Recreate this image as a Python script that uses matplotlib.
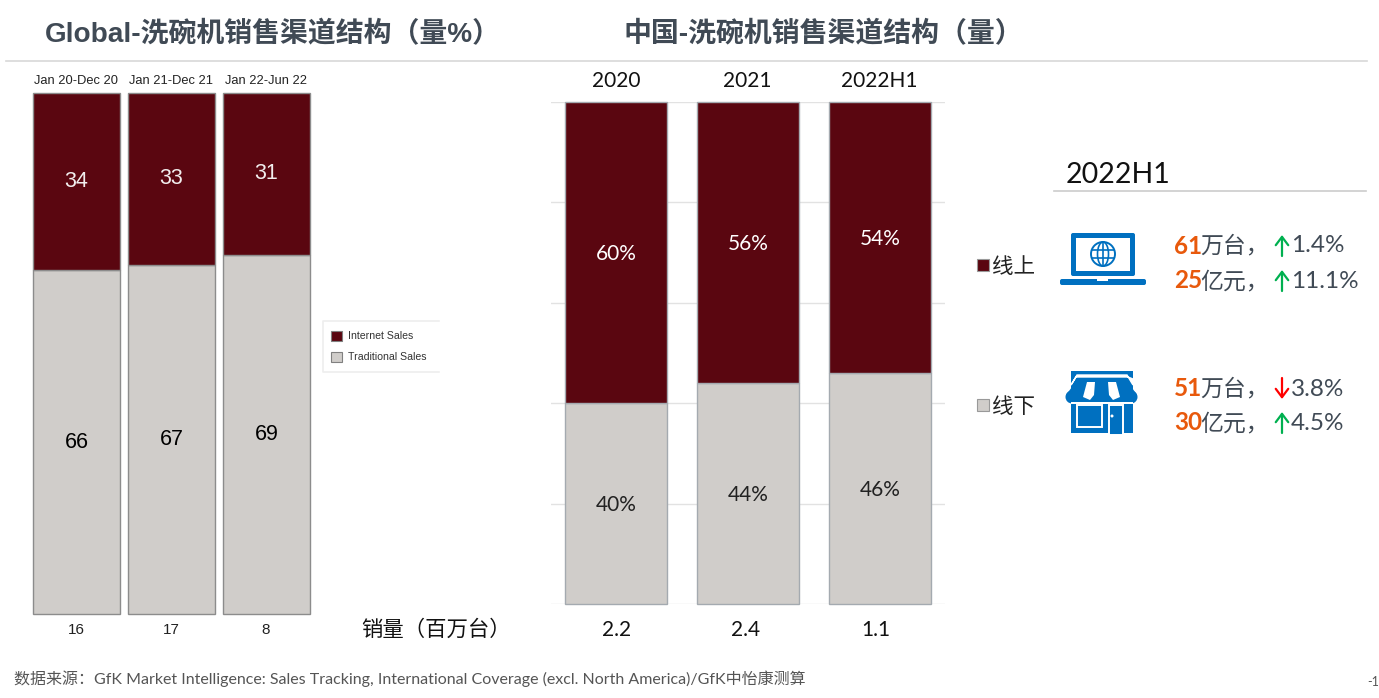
import matplotlib
matplotlib.use("Agg")
import matplotlib.pyplot as plt
from matplotlib.patches import Circle, Ellipse, Polygon, Rectangle, FancyBboxPatch

W, H = 1379, 698
DARK = "#5a0610"
GREY = "#d0cdca"
BLUE = "#0070c0"
ORANGE = "#e8590c"
TXT = "#404a55"
CJK = ["Lato", "Noto Sans CJK SC", "DejaVu Sans"]
ARIAL = ["Liberation Sans", "Noto Sans CJK SC"]

global_periods = ["Jan 20-Dec 20", "Jan 21-Dec 21", "Jan 22-Jun 22"]
global_internet = [34, 33, 31]
global_traditional = [66, 67, 69]
global_volume = ["16", "17", "8"]

china_years = ["2020", "2021", "2022H1"]
china_online = [60, 56, 54]
china_offline = [40, 44, 46]
china_volume = ["2.2", "2.4", "1.1"]

legend_labels = ["Internet Sales", "Traditional Sales"]
kpi_rows = [
    ("61", "万台，", "up", "1.4%"),
    ("25", "亿元，", "up", "11.1%"),
    ("51", "万台，", "down", "3.8%"),
    ("30", "亿元，", "up", "4.5%"),
]


def px_axes(fig, left, top, right, bottom):
    return fig.add_axes([left / W, 1 - bottom / H, (right - left) / W, (bottom - top) / H])


def stacked(ax, top_vals, bottom_vals, edge, width):
    x = range(len(top_vals))
    ax.bar(x, bottom_vals, width=width, color=GREY, edgecolor=edge, linewidth=1.0, zorder=3, clip_on=False)
    ax.bar(x, top_vals, width=width, bottom=bottom_vals, color=DARK, edgecolor=edge, linewidth=1.0, zorder=3,
           clip_on=False)
    ax.set_ylim(0, 100)
    ax.set_xticks([])
    for s in ax.spines.values():
        s.set_visible(False)


fig = plt.figure(figsize=(W / 100, H / 100), dpi=100)

# left chart: bars span 33..310 px, 95 px apart
ax_g = px_axes(fig, 33, 93, 310, 614)
stacked(ax_g, global_internet, global_traditional, "#8c8c8c", 87 / 95)
ax_g.set_xlim(-43.5 / 95, 2 + 43.5 / 95)
ax_g.set_yticks([])
for i in range(3):
    ax_g.text(i, global_traditional[i] + global_internet[i] / 2, str(global_internet[i]),
              color="#f2eeee", fontsize=15.5, ha="center", va="center", family=ARIAL, zorder=4)
    ax_g.text(i, global_traditional[i] / 2, str(global_traditional[i]),
              color="black", fontsize=15.5, ha="center", va="center", family=ARIAL, zorder=4)

# right chart, gridlines run 551..945 px, bars 132 px apart
ax_c = px_axes(fig, 551, 102, 945, 604)
stacked(ax_c, china_online, china_offline, "#a4aab0", 102 / 132)
ax_c.set_xlim(-65 / 132, 2 + 65 / 132)
ax_c.set_yticks([0, 20, 40, 60, 80, 100])
ax_c.tick_params(left=False, labelleft=False)
ax_c.grid(axis="y", color="#e2e2e2", linewidth=1, zorder=0)
for i in range(3):
    ax_c.text(i, china_offline[i] + china_online[i] / 2 - 0.2, f"{china_online[i]}%",
              color="white", fontsize=15, ha="center", va="center", family=CJK, zorder=4)
    ax_c.text(i, china_offline[i] / 2 - 0.2, f"{china_offline[i]}%",
              color="#222222", fontsize=15, ha="center", va="center", family=CJK, zorder=4)

# overlay in pixel coords for text, legends and icons
ov = fig.add_axes([0, 0, 1, 1], zorder=10)
ov.set_xlim(0, W)
ov.set_ylim(H, 0)
ov.axis("off")
ov.patch.set_alpha(0)


def t(x, y, s, size, color="black", ha="left", family=CJK, weight="normal"):
    ov.text(x, y, s, fontsize=size, color=color, ha=ha, va="center", family=family, fontweight=weight)


t(45, 35, "Global-洗碗机销售渠道结构（量%）", 20.1, TXT, family=ARIAL, weight="bold")
t(623, 35, "中国-洗碗机销售渠道结构（量）", 20.1, TXT, family=ARIAL, weight="bold")
ov.plot([6, 1367], [61, 61], color="#d8d8d8", lw=1.2)

for i, cx in enumerate([76, 171, 266]):
    t(cx, 81, global_periods[i], 9.3, "#222222", "center", ARIAL)
    t(cx, 630, global_volume[i], 11, "#222222", "center", ARIAL)
for i, cx in enumerate([616, 747, 879]):
    t(cx, 81, china_years[i], 15, "#111111", "center")
for i, cx in enumerate([617, 746, 876]):
    t(cx, 630, china_volume[i], 15, "#111111", "center")
t(361, 630, "销量（百万台）", 15.4, "#111111")
t(14, 679, "数据来源：GfK Market Intelligence: Sales Tracking, International Coverage (excl. North America)/GfK中怡康测算",
  11.5, "#555555")
t(1367, 682, "-1", 9, "#555555")

# global legend box, open on the right
ov.plot([439, 323, 323, 439], [321, 321, 372, 372], color="#eeeeee", lw=1.2)
for y, c, lab in zip([336, 357], [DARK, GREY], legend_labels):
    ov.add_patch(Rectangle((331, y - 5), 11, 10, fc=c, ec="#808080", lw=0.8))
    t(348, y, lab, 7.6, "#333333", family=ARIAL)

# side legend
for y, c, lab in zip([265, 405], [DARK, GREY], ["线上", "线下"]):
    ov.add_patch(Rectangle((977, y - 6), 12, 12, fc=c, ec="#999999", lw=0.8))
    t(992, y + 2, lab, 15.5, "#222222")

t(1066, 175, "2022H1", 20.5, "#111111")
ov.plot([1054, 1366], [191, 191], color="#cccccc", lw=1.2)

# laptop icon
ov.add_patch(FancyBboxPatch((1071, 233), 64, 43, boxstyle="round,pad=0,rounding_size=2", fc=BLUE, ec="none"))
ov.add_patch(Rectangle((1076, 238), 54, 33, fc="white", ec="none"))
ov.add_patch(FancyBboxPatch((1060, 279), 86, 6, boxstyle="round,pad=0,rounding_size=2", fc=BLUE, ec="none"))
ov.add_patch(Rectangle((1097, 279), 11, 1.5, fc="white", ec="none"))
ov.add_patch(Circle((1103, 254), 12, fc="none", ec=BLUE, lw=1.4))
ov.add_patch(Ellipse((1103, 254), 11, 24, fc="none", ec=BLUE, lw=1.2))
ov.plot([1103, 1103], [242, 266], color=BLUE, lw=1.2)
ov.plot([1092, 1114], [250, 250], color=BLUE, lw=1.2)
ov.plot([1092, 1114], [258, 258], color=BLUE, lw=1.2)

# shop icon
ov.add_patch(Rectangle((1071, 371), 62, 62, fc=BLUE, ec="none"))
ov.add_patch(Polygon([(1071, 385), (1077, 375), (1127, 375), (1133, 385), (1133, 379), (1128, 377), (1076, 377)],
                     fc="white", ec="white", lw=1))
ov.add_patch(Polygon([(1078, 379), (1126, 379), (1137, 395), (1066, 395)], fc=BLUE, ec="none"))
ov.add_patch(Circle((1072, 397), 6.5, fc=BLUE, ec="none"))
ov.add_patch(Circle((1131, 397), 6.5, fc=BLUE, ec="none"))
ov.add_patch(Polygon([(1087, 382), (1095, 382), (1094, 395), (1090, 400), (1083, 397)], fc="white", ec="none"))
ov.add_patch(Polygon([(1108, 382), (1116, 382), (1120, 397), (1113, 400), (1109, 395)], fc="white", ec="none"))
ov.add_patch(Rectangle((1077, 405), 25, 22, fc=BLUE, ec="white", lw=1.4))
ov.add_patch(Rectangle((1109, 405), 14, 30, fc=BLUE, ec="white", lw=1.4))
ov.add_patch(Rectangle((1071, 402), 62, 1.5, fc="white", ec="none"))
ov.add_patch(Circle((1112, 416), 1.5, fc="white", ec="none"))

# kpi text
for (num, unit, way, pct), y in zip(kpi_rows, [246, 281, 389, 423]):
    t(1174, y, num, 17.5, ORANGE, weight="bold")
    t(1200, y, unit, 16.5, TXT)
    col = "#00b050" if way == "up" else "#ff0000"
    a, b = (y + 10, y - 11) if way == "up" else (y - 11, y + 10)
    ov.annotate("", xy=(1282, b), xytext=(1282, a),
                arrowprops=dict(arrowstyle="->,head_width=0.45,head_length=0.6", color=col, lw=1.6,
                                shrinkA=0, shrinkB=0))
    t(1291, y, pct, 17.5, TXT)

fig.savefig("out.png", dpi=100)
